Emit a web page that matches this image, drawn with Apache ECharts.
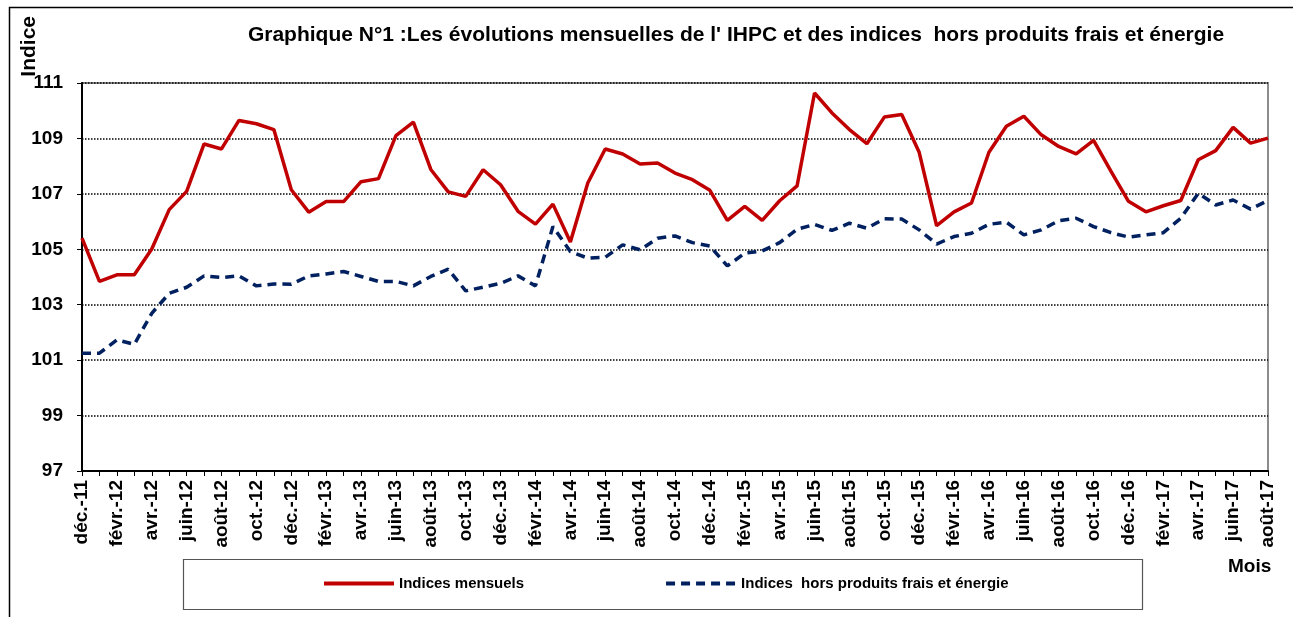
<!DOCTYPE html>
<html>
<head>
<meta charset="utf-8">
<script src="https://cdn.jsdelivr.net/npm/echarts@6/dist/echarts.min.js"></script>
<style>
  html, body { margin: 0; padding: 0; background: #fff; }
  #chart { width: 1293px; height: 617px; }
</style>
</head>
<body>
<div id="chart"></div>
<script>
var mois = [
  'déc.-11',
  'janv.-12', 'févr.-12', 'mars-12', 'avr.-12', 'mai-12', 'juin-12', 'juil.-12', 'août-12', 'sept.-12', 'oct.-12', 'nov.-12', 'déc.-12',
  'janv.-13', 'févr.-13', 'mars-13', 'avr.-13', 'mai-13', 'juin-13', 'juil.-13', 'août-13', 'sept.-13', 'oct.-13', 'nov.-13', 'déc.-13',
  'janv.-14', 'févr.-14', 'mars-14', 'avr.-14', 'mai-14', 'juin-14', 'juil.-14', 'août-14', 'sept.-14', 'oct.-14', 'nov.-14', 'déc.-14',
  'janv.-15', 'févr.-15', 'mars-15', 'avr.-15', 'mai-15', 'juin-15', 'juil.-15', 'août-15', 'sept.-15', 'oct.-15', 'nov.-15', 'déc.-15',
  'janv.-16', 'févr.-16', 'mars-16', 'avr.-16', 'mai-16', 'juin-16', 'juil.-16', 'août-16', 'sept.-16', 'oct.-16', 'nov.-16', 'déc.-16',
  'janv.-17', 'févr.-17', 'mars-17', 'avr.-17', 'mai-17', 'juin-17', 'juil.-17', 'août-17'
];

// IHPC (indices mensuels)
var indicesMensuels = [
  105.40, 103.84, 104.08, 104.08, 105.01, 106.43, 107.09, 108.80, 108.62, 109.65,
  109.53, 109.32, 107.15, 106.34, 106.72, 106.72, 107.44, 107.55, 109.10, 109.59,
  107.88, 107.07, 106.91, 107.87, 107.33, 106.37, 105.91, 106.63, 105.26, 107.39,
  108.62, 108.44, 108.08, 108.11, 107.75, 107.51, 107.13, 106.04, 106.55, 106.04,
  106.75, 107.29, 110.64, 109.92, 109.32, 108.81, 109.77, 109.86, 108.50, 105.85,
  106.35, 106.67, 108.50, 109.44, 109.80, 109.13, 108.71, 108.44, 108.93, 107.81,
  106.73, 106.35, 106.57, 106.76, 108.23, 108.56, 109.40, 108.83, 109.01
];

// indices hors produits frais et energie
var indicesHorsPFE = [
  101.25, 101.25, 101.73, 101.57, 102.69, 103.41, 103.63, 104.04, 103.98, 104.04,
  103.68, 103.75, 103.74, 104.04, 104.11, 104.20, 104.02, 103.84, 103.84, 103.68,
  104.02, 104.28, 103.50, 103.63, 103.77, 104.04, 103.68, 105.82, 104.92, 104.68,
  104.71, 105.16, 104.98, 105.40, 105.48, 105.24, 105.12, 104.40, 104.86, 104.94,
  105.24, 105.72, 105.90, 105.68, 105.94, 105.76, 106.10, 106.09, 105.70, 105.19,
  105.46, 105.58, 105.90, 105.98, 105.52, 105.70, 106.03, 106.12, 105.82, 105.60,
  105.44, 105.52, 105.60, 106.12, 107.02, 106.60, 106.78, 106.45, 106.76
];

var nomsSeries = ['Indices mensuels', 'Indices  hors produits frais et énergie'];

var police = '"Liberation Sans", Arial, sans-serif';

var myChart = echarts.init(document.getElementById('chart'));

var option = {
  backgroundColor: '#fff',
  animation: false,
  textStyle: { fontFamily: police },
  title: {
    text: "Graphique N°1 :Les évolutions mensuelles de l' IHPC et des indices  hors produits frais et énergie",
    left: 736,
    textAlign: 'center',
    top: 25,
    padding: 0,
    textStyle: { fontSize: 21, fontWeight: 'bold', color: '#000', fontFamily: police }
  },
  grid: {
    left: 82, right: 25, top: 83, bottom: 146,
    show: true,
    borderColor: '#8c8c8c',
    borderWidth: 2
  },
  legend: {
    left: 322,
    top: 576,
    padding: 0,
    itemWidth: 70,
    itemHeight: 14,
    itemGap: 140,
    data: nomsSeries,
    itemStyle: { color: 'rgba(0,0,0,0)', borderWidth: 0 },
    lineStyle: { width: 4 },
    textStyle: { fontSize: 15, fontWeight: 'bold', color: '#000', fontFamily: police }
  },
  xAxis: {
    type: 'category',
    data: mois,
    boundaryGap: false,
    axisLine: { lineStyle: { color: '#000', width: 2 } },
    axisTick: { show: true, interval: 0, inside: false, length: 5, lineStyle: { color: '#000', width: 1 } },
    axisLabel: {
      interval: 1,
      rotate: 90,
      margin: 9,
      fontSize: 19,
      fontWeight: 'bold',
      color: '#000',
      fontFamily: police
    },
    splitLine: { show: false }
  },
  yAxis: {
    type: 'value',
    min: 97,
    max: 111,
    interval: 2,
    axisLine: { show: true, lineStyle: { color: '#000', width: 2 } },
    axisTick: { show: true, length: 5, lineStyle: { color: '#000' } },
    axisLabel: { fontSize: 19, fontWeight: 'bold', color: '#000', margin: 19, fontFamily: police },
    splitLine: { show: true, lineStyle: { color: '#000', width: 1.5, type: [1.5, 1.5] } }
  },
  graphic: [
    { type: 'rect', left: 7, top: 5, shape: { width: 1320, height: 700 }, style: { fill: null, stroke: '#000', lineWidth: 1.5 }, silent: true },
    { type: 'rect', left: 181, top: 557, shape: { width: 959, height: 50 }, style: { fill: null, stroke: '#555', lineWidth: 1.2 }, z: -1, silent: true },
    { type: 'text', left: 19, top: 16, rotation: Math.PI / 2, style: { text: 'Indice', font: 'bold 21px "Liberation Sans", Arial, sans-serif', fill: '#000' } },
    { type: 'text', left: 1228, top: 557, style: { text: 'Mois', font: 'bold 19px "Liberation Sans", Arial, sans-serif', fill: '#000' } }
  ],
  series: [
    {
      name: nomsSeries[0],
      type: 'line',
      data: indicesMensuels,
      symbol: 'none',
      lineStyle: { color: '#c00000', width: 3.5 },
      itemStyle: { color: '#c00000' },
      z: 3
    },
    {
      name: nomsSeries[1],
      type: 'line',
      data: indicesHorsPFE,
      symbol: 'none',
      lineStyle: { color: '#002060', width: 3.5, type: [9, 6] },
      itemStyle: { color: '#002060' },
      z: 2
    }
  ]
};

myChart.setOption(option);
window.onresize = function () {
  myChart.resize();
};
</script>
</body>
</html>
